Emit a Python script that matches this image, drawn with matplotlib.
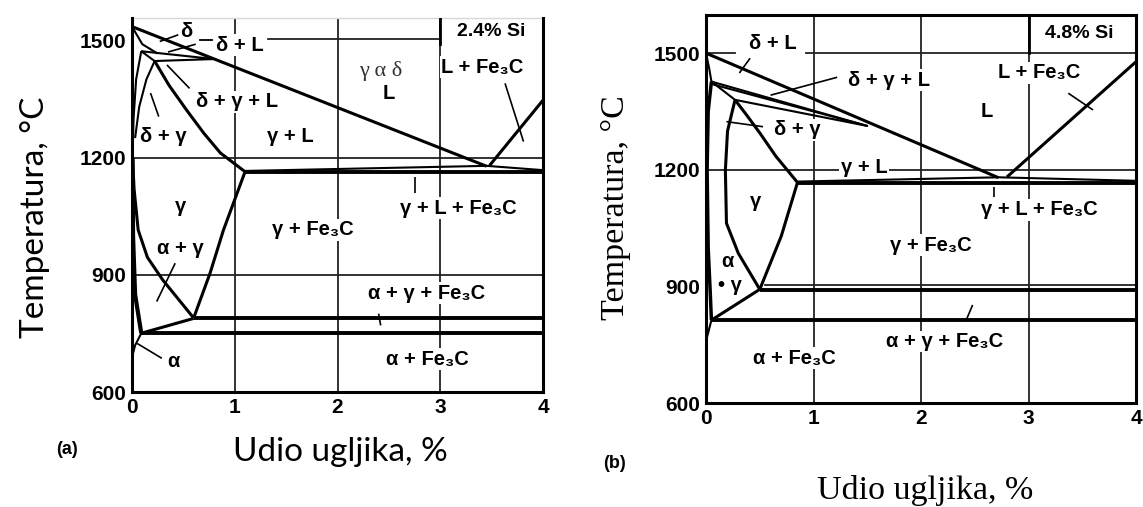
import numpy as np
import matplotlib.pyplot as plt

# ---- panel (a): 2.4% Si ----
a_liquidus = [(0, 1535), (3.45, 1178)]
a_liquidus_fe3c = [(3.48, 1180), (4.0, 1347)]
a_delta_solidus = [(0, 1535), (0.10, 1490), (0.25, 1466)]
a_peritectic = [(0.09, 1472), (0.22, 1447), (0.80, 1452), (0.09, 1472)]
a_delta_bound = [(0.09, 1472), (0.04, 1400), (0.015, 1300), (0.005, 1200)]
a_gamma_delta = [(0.22, 1447), (0.14, 1400), (0.07, 1330), (0.03, 1250)]
a_gamma_solidus = [(0.22, 1447), (0.36, 1385), (0.53, 1322), (0.70, 1262), (0.86, 1212), (1.10, 1164)]
a_acm = [(1.10, 1164), (0.89, 1015), (0.76, 905), (0.60, 790)]
a_a3 = [(0.005, 1200), (0.02, 1120), (0.06, 1015), (0.15, 945), (0.30, 887), (0.60, 790)]
a_alpha_bound = [(0.005, 1200), (0.01, 1000), (0.03, 850), (0.09, 751)]
a_alpha_solvus = [(0.09, 751), (0.03, 720), (0.0, 690)]
a_eut_tri = [(1.10, 1166), (3.45, 1179), (4.0, 1168)]
a_eutectic = [(1.10, 1163), (4.0, 1163)]
a_eutectoid_hi = [(0.60, 789), (4.0, 789)]
a_eutectoid_lo = [(0.09, 751), (4.0, 751)]
a_tieline = [(0.09, 751), (0.60, 789)]
a_leaders = [
    [(0.27, 1497), (0.45, 1514)],
    [(0.35, 1470), (0.62, 1490)],
    [(0.34, 1437), (0.56, 1377)],
    [(0.26, 1305), (0.18, 1365)],
    [(3.63, 1390), (3.81, 1241)],
    [(2.75, 1150), (2.75, 1109)],
    [(2.40, 801), (2.42, 771)],
    [(0.42, 930), (0.24, 832)],
    [(0.05, 725), (0.29, 687)],
]
a_labels = [
    ("δ", 0.53, 1522), ("δ + L", 1.05, 1487), ("δ + γ + L", 1.02, 1343),
    ("δ + γ", 0.30, 1254), ("γ + L", 1.54, 1254), ("γ", 0.47, 1075),
    ("γ + Fe₃C", 1.76, 1016), ("γ + L + Fe₃C", 3.18, 1071),
    ("L + Fe₃C", 3.41, 1431), ("L", 2.50, 1363), ("α + γ", 0.47, 968),
    ("α + γ + Fe₃C", 2.87, 853), ("α + Fe₃C", 2.87, 685), ("α", 0.40, 678),
]

# ---- panel (b): 4.8% Si ----
b_liquidus = [(0, 1500), (2.72, 1180)]
b_liquidus_fe3c = [(2.80, 1182), (4.0, 1478)]
b_delta_solidus = [(0, 1500), (0.03, 1460), (0.05, 1427)]
b_peritectic = [(0.05, 1427), (0.27, 1380), (1.50, 1313), (0.05, 1427)]
b_peri_mid = [(0.06, 1420), (1.50, 1313)]
b_gamma_delta = [(0.27, 1380), (0.20, 1300), (0.18, 1200), (0.19, 1063), (0.30, 986), (0.50, 893)]
b_gamma_solidus = [(0.27, 1380), (0.38, 1340), (0.50, 1295), (0.65, 1235), (0.85, 1168)]
b_acm = [(0.85, 1167), (0.70, 1030), (0.50, 893)]
b_alpha_bound = [(0.05, 1427), (0.02, 1350), (0.01, 1200), (0.02, 1000), (0.04, 880), (0.05, 814)]
b_alpha_solvus = [(0.05, 814), (0.0, 760)]
b_eut_tri = [(0.85, 1170), (2.72, 1181), (4.0, 1172)]
b_eutectic = [(0.85, 1167), (4.0, 1167)]
b_eutectoid_hi = [(0.50, 891), (4.0, 891)]
b_eutectoid_lo = [(0.05, 814), (4.0, 814)]
b_tieline = [(0.05, 814), (0.50, 893)]
b_leaders = [
    [(0.31, 1449), (0.41, 1487)],
    [(1.22, 1438), (0.60, 1392)],
    [(0.53, 1311), (0.19, 1324)],
    [(3.37, 1397), (3.60, 1354)],
    [(2.68, 1157), (2.68, 1131)],
    [(2.42, 814), (2.48, 853)],
]
b_labels = [
    ("δ + L", 0.62, 1526), ("δ + γ + L", 1.70, 1431), ("L + Fe₃C", 3.10, 1449),
    ("L", 2.61, 1350), ("δ + γ", 0.85, 1303), ("γ + L", 1.47, 1206),
    ("γ", 0.46, 1119), ("γ + L + Fe₃C", 3.10, 1097), ("γ + Fe₃C", 2.09, 1007),
    ("α", 0.20, 964), ("• γ", 0.22, 904), ("α + γ + Fe₃C", 2.22, 759),
    ("α + Fe₃C", 0.82, 716),
]

xticks = [0, 1, 2, 3, 4]
yticks = [600, 900, 1200, 1500]

LBL = ['Liberation Sans', 'DejaVu Sans']


def line(ax, pts, lw=2.0, z=4):
    p = np.array(pts)
    ax.plot(p[:, 0], p[:, 1], color='black', lw=lw, zorder=z, solid_capstyle='butt')


def put_labels(ax, labels, size=14.5):
    for txt, x, t in labels:
        ax.text(x, t, txt, ha='center', va='center', fontsize=size, fontweight='bold',
                family=LBL, zorder=3,
                bbox=dict(facecolor='white', edgecolor='none', pad=1.0))


def setup(ax, ylim, top_spine):
    ax.set_xlim(0, 4)
    ax.set_ylim(*ylim)
    ax.set_xticks(xticks)
    ax.set_yticks(yticks)
    ax.tick_params(length=0, pad=4, labelsize=15)
    for lab in ax.get_xticklabels() + ax.get_yticklabels():
        lab.set_fontweight('bold')
        lab.set_family('Liberation Sans')
    for s in ['left', 'bottom', 'right']:
        ax.spines[s].set_linewidth(2.2)
    ax.spines['top'].set_visible(top_spine)
    ax.spines['top'].set_linewidth(2.2)
    for x in [1, 2, 3]:
        ax.axvline(x, color='#222222', lw=1.3, zorder=1)


fig = plt.figure(figsize=(11.43, 5.07), dpi=100)

# panel (a)
ax = fig.add_axes([0.1155, 0.2262, 0.3596, 0.7383])
setup(ax, (600, 1557), False)
ax.plot([0, 4], [1557, 1557], color='#d8d8d8', lw=1, clip_on=False)
for t in [900, 1200]:
    ax.plot([0, 4], [t, t], color='#222222', lw=1.3, zorder=1)
ax.plot([1.32, 3.0], [1503, 1503], color='#222222', lw=1.3, zorder=1)
ax.plot([3.0, 3.0], [1490, 1557], color='black', lw=2.0, zorder=2)
for pts in [a_liquidus, a_liquidus_fe3c, a_gamma_solidus, a_acm, a_a3, a_tieline]:
    line(ax, pts, 2.2)
for pts in [a_delta_solidus, a_peritectic, a_delta_bound, a_gamma_delta, a_alpha_solvus, a_eut_tri]:
    line(ax, pts, 1.5)
line(ax, a_alpha_bound, 3.0)
for pts in [a_eutectic, a_eutectoid_hi, a_eutectoid_lo]:
    line(ax, pts, 2.8)
for pts in a_leaders:
    line(ax, pts, 1.2)
ax.plot([0.66, 0.78], [1502, 1502], color='black', lw=1.3, zorder=4)
put_labels(ax, a_labels)
ax.text(2.42, 1422, "γ α δ", ha='center', va='center', fontsize=16, family='Liberation Serif',
        color='#333333', zorder=3)
ax.text(3.5, 1522, "2.4% Si", ha='center', va='center', fontsize=14, fontweight='bold',
        family='Liberation Sans', zorder=3)

# panel (b)
bx = fig.add_axes([0.6177, 0.2043, 0.3762, 0.7661])
setup(bx, (600, 1598), True)
for seg in [(0, 0.27), (0.93, 4)]:
    bx.plot(seg, [1500, 1500], color='#222222', lw=1.3, zorder=1)
bx.plot([0, 4], [1200, 1200], color='#222222', lw=1.3, zorder=1)
bx.plot([0.55, 4], [904, 904], color='#222222', lw=1.3, zorder=1)
bx.plot([3.0, 3.0], [1500, 1598], color='black', lw=2.0, zorder=2)
for pts in [b_liquidus, b_liquidus_fe3c, b_gamma_solidus, b_acm, b_gamma_delta, b_tieline]:
    line(bx, pts, 2.2)
for pts in [b_delta_solidus, b_peritectic, b_peri_mid, b_alpha_solvus, b_eut_tri]:
    line(bx, pts, 1.5)
line(bx, b_alpha_bound, 2.5)
for pts in [b_eutectic, b_eutectoid_hi, b_eutectoid_lo]:
    line(bx, pts, 2.8)
for pts in b_leaders:
    line(bx, pts, 1.2)
put_labels(bx, b_labels)
bx.text(3.47, 1550, "4.8% Si", ha='center', va='center', fontsize=14, fontweight='bold',
        family='Liberation Sans', zorder=3)

# axis titles and panel letters
fig.text(35 / 1143, 1 - 217 / 507, "Temperatura, °C", rotation=90, ha='center', va='center',
         fontsize=24, family='Lato')
fig.text(340 / 1143, 1 - 452 / 507, "Udio ugljika, %", ha='center', va='center',
         fontsize=24, family='Lato')
fig.text(616 / 1143, 1 - 208 / 507, "Temperatura, °C", rotation=90, ha='center', va='center',
         fontsize=24.5, family='Liberation Serif')
fig.text(925 / 1143, 1 - 490 / 507, "Udio ugljika, %", ha='center', va='center',
         fontsize=24.5, family='Liberation Serif')
fig.text(67 / 1143, 1 - 450 / 507, "(a)", ha='center', va='center', fontsize=13,
         fontweight='bold', family='Liberation Sans')
fig.text(614 / 1143, 1 - 463 / 507, "(b)", ha='center', va='center', fontsize=13,
         fontweight='bold', family='Liberation Sans')

fig.savefig('out.png', dpi=100)
